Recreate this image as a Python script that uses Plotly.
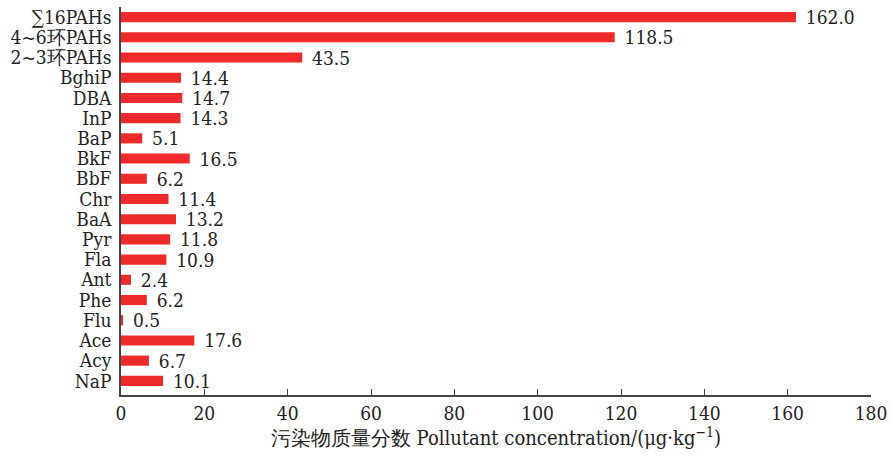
import plotly.graph_objects as go

# Compound names, listed bottom-to-top as drawn on the category axis
compounds = ["NaP", "Acy", "Ace", "Flu", "Phe", "Ant", "Fla", "Pyr", "BaA", "Chr",
             "BbF", "BkF", "BaP", "InP", "DBA", "BghiP",
             "2~3环PAHs", "4~6环PAHs", "∑16PAHs"]
# Mass fraction of each pollutant, μg/kg
concentration = [10.1, 6.7, 17.6, 0.5, 6.2, 2.4, 10.9, 11.8, 13.2, 11.4,
                 6.2, 16.5, 5.1, 14.3, 14.7, 14.4,
                 43.5, 118.5, 162.0]
x_ticks = [0, 20, 40, 60, 80, 100, 120, 140, 160, 180]

serif = "DejaVu Serif Condensed, DejaVu Serif"
axis_color = "#444444"
text_color = "#222222"

fig = go.Figure(go.Bar(
    x=concentration,
    y=compounds,
    orientation="h",
    marker=dict(color="#EE2A2A", line=dict(width=0)),
    width=0.5,
    text=[f"\u2009\u2009{v:.1f}" for v in concentration],
    textposition="outside",
    constraintext="none",
    cliponaxis=False,
    textfont=dict(family=serif, size=19, color=text_color),
))

fig.update_layout(
    width=893, height=456,
    margin=dict(l=121, r=17, t=6, b=61),
    paper_bgcolor="white", plot_bgcolor="white",
    showlegend=False,
    font=dict(family=serif, size=19, color=text_color),
    xaxis=dict(
        range=[0, 180],
        tickmode="array", tickvals=x_ticks,
        ticks="inside", ticklen=6, tickwidth=1.2, tickcolor=axis_color,
        showline=True, linecolor=axis_color, linewidth=1.5,
        showgrid=False, zeroline=False,
        tickfont=dict(family=serif, size=19, color=text_color),
        title=dict(text="污染物质量分数 Pollutant concentration/(μg·kg<sup>−1</sup>)",
                   font=dict(family=serif, size=20, color=text_color), standoff=8),
    ),
    yaxis=dict(
        type="category",
        categoryorder="array", categoryarray=compounds,
        tickmode="array", tickvals=compounds, ticktext=compounds,
        range=[-0.7, 18.5],
        showline=True, linecolor=axis_color, linewidth=1.5,
        ticks="", showgrid=False, zeroline=False,
        ticklabelstandoff=4,
        tickfont=dict(family=serif, size=19, color=text_color),
    ),
)

fig.write_html("out.html")
